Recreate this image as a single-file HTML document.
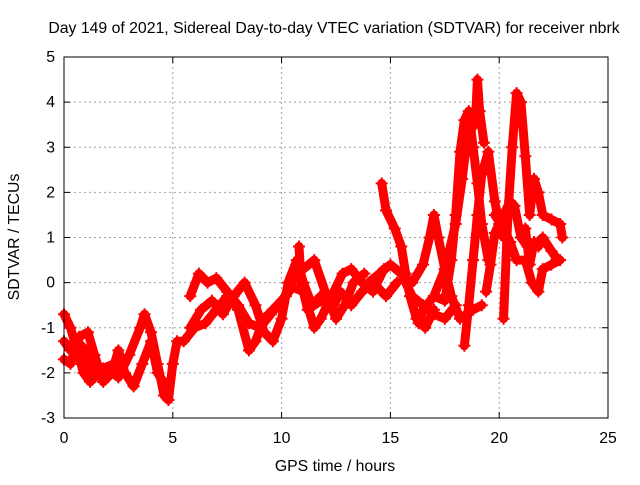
<!DOCTYPE html>
<html><head><meta charset="utf-8"><style>
body{margin:0;background:#fff}
svg text{font-family:"Liberation Sans",sans-serif;font-size:15.8px;fill:#000}
</style></head><body>
<svg id="c" width="640" height="480">
<text x="334" y="33" text-anchor="middle">Day 149 of 2021, Sidereal Day-to-day VTEC variation (SDTVAR) for receiver nbrk</text>
<text x="335" y="471" text-anchor="middle">GPS time / hours</text>
<text transform="translate(19,237) rotate(-90)" text-anchor="middle">SDTVAR / TECUs</text>
<g id="grid"></g><g id="marks"></g>
<rect x="64" y="57" width="544" height="361" fill="none" stroke="#000" stroke-width="1"/>
</svg>
<script>
const xTicks=[0,5,10,15,20,25];
const yTicks=[-3,-2,-1,0,1,2,3,4,5];
const trackA=[[0,-0.7],[0.3,-1.0],[0.6,-1.5],[0.9,-2.0],[1.2,-2.2],[1.6,-2.0],[2.0,-1.9],[2.5,-2.1],[3.0,-1.6],[3.5,-1.0],[3.7,-0.7],[4.0,-1.1],[4.3,-1.8],[4.6,-2.5],[4.8,-2.6],[5.0,-1.8],[5.2,-1.3],[5.5,-1.3],[6,-1.0],[6.5,-0.9],[7,-0.6],[7.5,-0.3],[8,-0.5]];
const trackB=[[0,-1.3],[0.3,-1.5],[0.7,-1.2],[1.1,-1.1],[1.4,-1.6],[1.8,-2.2],[2.2,-2.0],[2.5,-1.5],[2.8,-2.0],[3.2,-2.3],[3.6,-1.8],[4.0,-1.3],[4.3,-2.0],[4.7,-2.3]];
const trackC=[[0,-1.7],[0.3,-1.8],[0.6,-1.3],[1.0,-1.5],[1.3,-2.1],[1.8,-1.9],[2.3,-1.8]];
const trackD=[[5.8,-0.3],[6.2,0.2],[6.6,0.0],[7.0,0.1],[7.5,-0.2],[8,-0.5],[8.5,-0.9],[9.0,-1.0],[9.5,-0.7],[10.0,-0.4],[10.5,-0.1],[11.0,-0.2],[11.5,-1.0],[11.8,-0.8],[12.3,-0.3],[12.8,0.2],[13.2,0.3],[13.7,0.0],[14.2,-0.2],[14.7,0.3]];
const trackE=[[5.8,-1.0],[6.3,-0.6],[6.8,-0.4],[7.3,-0.7],[7.8,-0.3],[8.3,0.0],[8.8,-0.5],[9.2,-1.1],[9.6,-1.3],[10.0,-0.8],[10.3,0.0],[10.7,0.5],[11.0,0.0],[11.4,-0.5],[11.8,-0.3],[12.3,-0.6],[12.7,-0.2],[13.2,-0.5],[13.7,-0.2],[14.2,0.0],[14.8,-0.3],[15.3,0.0]];
const trackF=[[7.5,-0.2],[8.0,-0.6],[8.5,-1.5],[8.8,-1.3],[9.2,-0.8],[9.6,-0.6],[10.2,-0.3],[10.6,0.2],[11.0,0.3],[11.5,0.5],[12.0,-0.2],[12.5,-0.8],[12.9,-0.5],[13.3,0.0],[13.8,0.2]];
const trackG=[[10.8,0.8],[10.9,0.0],[11.2,-0.6],[11.8,-0.4]];
const trackH=[[14.6,2.2],[14.8,1.6],[15.2,1.2],[15.5,0.8],[15.7,0.2],[15.9,-0.3],[16.2,-0.8],[16.6,-1.0],[17.0,-0.6]];
const trackI=[[16.0,0.0],[16.5,0.4],[16.8,1.0],[17.0,1.5],[17.2,1.0],[17.5,0.3],[17.8,-0.3],[18.2,-0.8],[18.5,-0.7],[18.8,-0.6],[19.2,-0.5]];
const trackJ=[[14.0,0.0],[14.5,0.2],[15.0,0.4],[15.5,0.2],[16.0,-0.3],[16.5,-0.5],[17.0,-0.7],[17.5,-0.8],[18.0,-0.5]];
const trackK=[[16.3,-0.9],[16.5,-0.6],[17.0,-0.3],[17.5,0.3],[18.0,1.3],[18.3,2.3],[18.5,3.1],[18.7,3.7],[18.9,3.5],[19.0,4.5],[19.1,3.8],[19.3,3.1]];
const trackL=[[17.0,-0.3],[17.5,-0.4],[17.8,0.5],[18.0,1.5],[18.2,2.9],[18.4,3.6],[18.6,3.8],[18.8,3.0],[19.0,2.2],[19.2,1.3],[19.5,0.5]];
const trackN=[[18.4,-1.4],[18.6,-0.5],[18.8,0.5],[19.0,1.5],[19.2,2.4],[19.5,2.9],[19.8,1.8],[20.0,1.3],[20.2,1.0]];
const trackO=[[19.4,-0.2],[19.6,0.4],[19.8,1.1],[20.2,1.5],[20.5,1.8],[20.7,1.7],[21.0,1.0],[21.3,0.8],[21.6,0.8],[22.0,1.0],[22.4,0.7],[22.7,0.5]];
const trackP=[[20.2,-0.8],[20.4,1.5],[20.6,3.0],[20.8,4.2],[21.0,4.0],[21.2,2.8],[21.4,1.5],[21.6,2.3],[21.8,2.0],[22.0,1.5],[22.4,1.4],[22.8,1.3],[22.9,1.0]];
const trackQ=[[19.8,1.5],[20.2,1.2],[20.5,0.9],[20.8,0.5],[21.2,0.5],[21.5,0.0],[21.8,-0.2],[22.0,0.3],[22.4,0.4],[22.8,0.5]];
const trackR=[[21.2,1.2],[21.4,0.4],[21.6,0.9],[21.8,0.8]];
const tracks=[trackA,trackB,trackC,trackD,trackE,trackF,trackG,trackH,trackI,trackJ,trackK,trackL,trackN,trackO,trackP,trackQ,trackR];
const X0=64,X1=608,Y0=418,Y1=57;
function sx(h){return X0+(h-0)/(25-0)*(X1-X0);}
function sy(v){return Y0-(v+3)/(5+3)*(Y0-Y1);}
const NS="http://www.w3.org/2000/svg";
const grid=document.getElementById('grid'),marks=document.getElementById('marks');
function mk(t,a,p){const e=document.createElementNS(NS,t);for(const k in a)e.setAttribute(k,a[k]);p.appendChild(e);return e;}
xTicks.forEach(t=>{const x=sx(t);
 if(t>0&&t<25){const l=mk('line',{x1:x,x2:x,y1:Y1,y2:Y0,stroke:'#a0a0a0','stroke-dasharray':'2,3'},grid);
 
 }
 mk('line',{x1:x,x2:x,y1:Y0,y2:Y0-6,stroke:'#000'},grid);mk('line',{x1:x,x2:x,y1:Y1,y2:Y1+6,stroke:'#000'},grid);
 const tx=mk('text',{x:x,y:443,'text-anchor':'middle'},grid);tx.textContent=t;
 
 });
yTicks.forEach(t=>{const y=sy(t);
 if(t>-3&&t<5){const l=mk('line',{x1:X0,x2:X1,y1:y,y2:y,stroke:'#a0a0a0','stroke-dasharray':'2,3'},grid);
 
 }
 mk('line',{x1:X0,x2:X0+6,y1:y,y2:y,stroke:'#000'},grid);mk('line',{x1:X1,x2:X1-6,y1:y,y2:y,stroke:'#000'},grid);
 const tx=mk('text',{x:55,y:y+5,'text-anchor':'end'},grid);tx.textContent=t;
 
 });
tracks.forEach((tr,i)=>{
 const g=mk('g',{},marks);
 
 
 mk('polyline',{points:tr.map(p=>sx(p[0])+','+sy(p[1])).join(' '),fill:'none',stroke:'#f00','stroke-width':9,'stroke-linejoin':'round','stroke-linecap':'round'},g);
 let d='';tr.forEach(p=>{const x=sx(p[0]),y=sy(p[1]);d+=`M${x-6},${y}h12M${x},${y-6}v12`;});
 mk('path',{d:d,stroke:'#f00','stroke-width':2,fill:'none'},g);
});
</script>
</body></html>
